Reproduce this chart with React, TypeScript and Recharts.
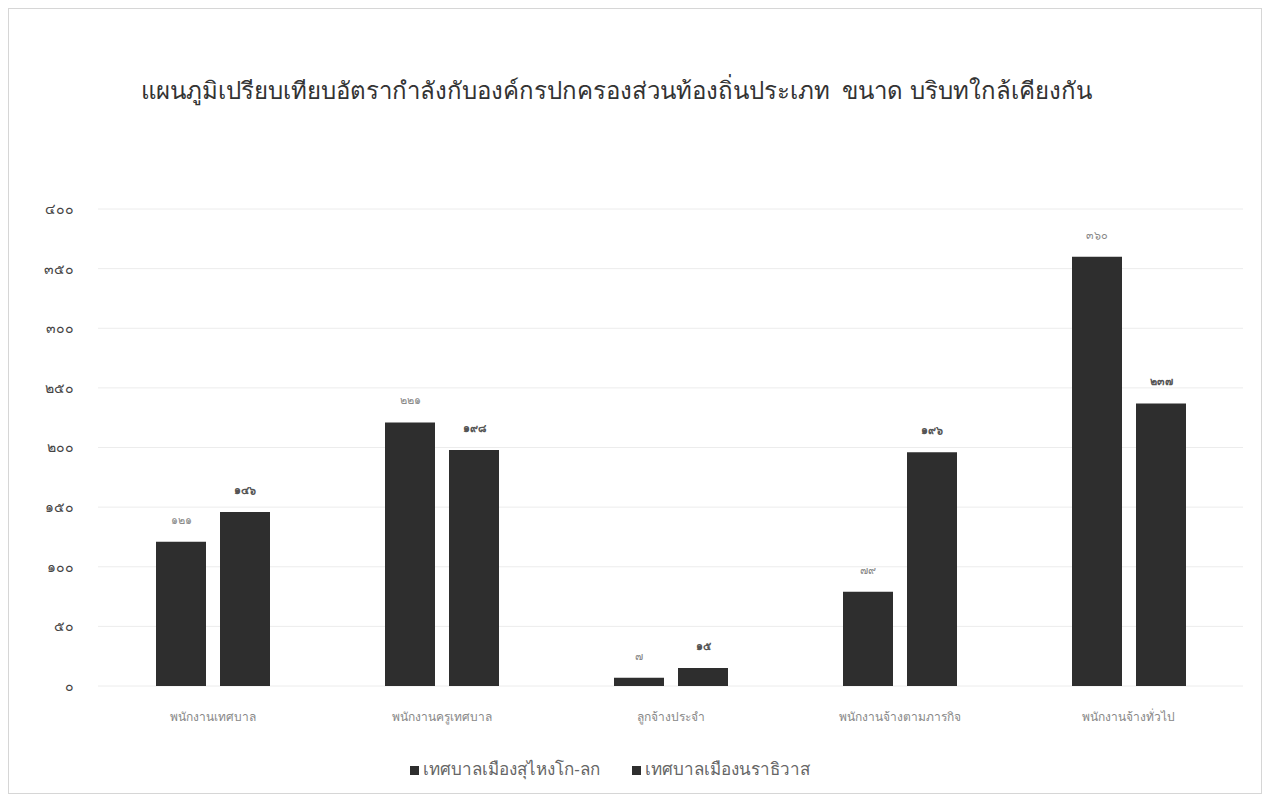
import { Bar, BarChart, CartesianGrid, LabelList, Legend, XAxis, YAxis } from 'recharts';

const categories = [
  'พนักงานเทศบาล',
  'พนักงานครูเทศบาล',
  'ลูกจ้างประจำ',
  'พนักงานจ้างตามภารกิจ',
  'พนักงานจ้างทั่วไป',
];
const sungaiKolok = [121, 221, 7, 79, 360];
const narathiwat = [146, 198, 15, 196, 237];
const seriesNames = ['เทศบาลเมืองสุไหงโก-ลก', 'เทศบาลเมืองนราธิวาส'];
const yTicks = [0, 50, 100, 150, 200, 250, 300, 350, 400];

const title =
  'แผนภูมิเปรียบเทียบอัตรากำลังกับองค์กรปกครองส่วนท้องถิ่นประเภท  ขนาด บริบทใกล้เคียงกัน';

const thaiDigits = '๐๑๒๓๔๕๖๗๘๙';
const toThai = (v: number | string) =>
  String(v).replace(/[0-9]/g, (d) => thaiDigits[Number(d)]);

const data = categories.map((name, i) => ({
  name,
  a: sungaiKolok[i],
  b: narathiwat[i],
}));

const font = '"Noto Sans", "DejaVu Sans", sans-serif';

export default function App() {
  return (
    <div
      style={{
        position: 'relative',
        width: 1252,
        height: 784,
        border: '1px solid #d6d6d6',
        background: '#fff',
        fontFamily: font,
      }}
    >
      <div
        style={{
          position: 'absolute',
          top: 62,
          left: 132,
          fontSize: 24,
          color: '#333',
          whiteSpace: 'pre',
        }}
      >
        {title}
      </div>
      <BarChart
        width={1252}
        height={784}
        data={data}
        margin={{ top: 200, right: 18, left: 0, bottom: 8 }}
        barSize={50}
        barGap={14}
      >
        <CartesianGrid vertical={false} stroke="#ececec" />
        <XAxis
          dataKey="name"
          axisLine={false}
          tickLine={false}
          tickMargin={20}
          height={69}
          tick={{ fontSize: 12, fill: '#888' }}
        />
        <YAxis
          width={89}
          domain={[0, 400]}
          ticks={yTicks}
          axisLine={false}
          tickLine={false}
          tickSize={0}
          tickMargin={24}
          tickFormatter={(v: number) => toThai(v)}
          tick={{ fontSize: 14, fill: '#444' }}
        />
        <Legend
          verticalAlign="bottom"
          iconType="square"
          iconSize={9}
          height={30}
          itemSorter="dataKey"
          formatter={(value: string) => (
            <span style={{ color: '#666', fontSize: 17, marginRight: 22 }}>{value}</span>
          )}
        />
        <Bar dataKey="a" name={seriesNames[0]} fill="#2e2e2e" isAnimationActive={false}>
          <LabelList
            dataKey="a"
            position="top"
            offset={18}
            formatter={(v: number) => toThai(v)}
            style={{ fontSize: 11, fill: '#888' }}
          />
        </Bar>
        <Bar dataKey="b" name={seriesNames[1]} fill="#2e2e2e" isAnimationActive={false}>
          <LabelList
            dataKey="b"
            position="top"
            offset={18}
            formatter={(v: number) => toThai(v)}
            style={{ fontSize: 11, fill: '#555', fontWeight: 'bold' }}
          />
        </Bar>
      </BarChart>
    </div>
  );
}
